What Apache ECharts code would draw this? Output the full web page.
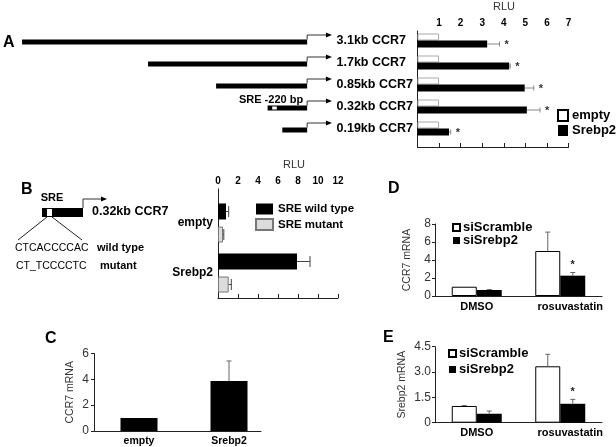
<!DOCTYPE html>
<html><head><meta charset="utf-8">
<script src="https://cdn.jsdelivr.net/npm/echarts@6/dist/echarts.min.js"></script>
<style>html,body{margin:0;padding:0;background:#fff}#c{width:616px;height:447px}</style>
</head><body><div id="c"></div>
<script>
// ---------- DATA ----------
// Panel A
const promoterNames = ['3.1kb CCR7', '1.7kb CCR7', '0.85kb CCR7', '0.32kb CCR7', '0.19kb CCR7'];
const promoterStart = [-3.1, -1.73, -0.99, -0.43, -0.27];   // drawn start (kb)
const sreBox = [null, null, null, [-0.38, -0.33], null];
const sreText = 'SRE -220 bp';
const arrowEnd = 0.27;
const aNames = ['empty', 'Srebp2'];
const aEmpty = [1, 1, 1, 1, 1];
const aSrebp2 = [3.23, 4.25, 4.97, 5.07, 1.46];
const aSrebp2Err = [0.57, 0.05, 0.42, 0.61, 0.08];
const aStar = [1, 1, 1, 1, 1];
// Panel B
const bCats = ['empty', 'Srebp2'];
const bNames = ['SRE wild type', 'SRE mutant'];
const bWild = [0.8, 7.9];
const bWildErr = [0.27, 1.3];
const bMut = [0.5, 1.07];
const bMutErr = [0.08, 0.26];
// Panel C
const cCats = ['empty', 'Srebp2'];
const cVals = [1.0, 3.88];
const cErr = [0, 1.54];
// Panels D, E
const deCats = ['DMSO', 'rosuvastatin'];
const deNames = ['siScramble', 'siSrebp2'];
const dScr = [1.03, 5.0];
const dScrErr = [0, 2.1];
const dSi = [0.67, 2.26];
const dSiErr = [0.05, 0.35];
const dStar = [0, 1];
const eScr = [0.99, 3.34];
const eScrErr = [0.03, 0.71];
const eSi = [0.53, 1.12];
const eSiErr = [0.16, 0.26];
const eStar = [0, 1];

// ---------- CHART ----------
const FF = 'Arial, "Liberation Sans", Helvetica, sans-serif';
const chart = echarts.init(document.getElementById('c'));

function hErr(xi, yi, vals, errs, stars, offset, cap, color) {
  return {
    type: 'custom', xAxisIndex: xi, yAxisIndex: yi, silent: true, z: 5,
    encode: { x: 1, y: 0 },
    data: vals.map((v, i) => [i, v, errs[i], stars ? stars[i] : 0]),
    renderItem(params, api) {
      const i = api.value(0), v = api.value(1), e = api.value(2), s = api.value(3);
      const a = api.coord([v, i]), b = api.coord([v + e, i]);
      const y = a[1] + offset, ch = [];
      if (e > 0) {
        ch.push({ type: 'line', shape: { x1: a[0], y1: y, x2: b[0], y2: y }, style: { stroke: color, lineWidth: 1 } });
        ch.push({ type: 'line', shape: { x1: b[0], y1: y - cap / 2, x2: b[0], y2: y + cap / 2 }, style: { stroke: color, lineWidth: 1 } });
      }
      if (s) ch.push({ type: 'text', x: b[0] + 5, y: y + 1, style: { text: '*', fill: '#333', font: 'bold 11px ' + FF, align: 'left', verticalAlign: 'middle' } });
      return { type: 'group', children: ch };
    }
  };
}
function vErr(xi, yi, vals, errs, stars, offset, cap, color) {
  return {
    type: 'custom', xAxisIndex: xi, yAxisIndex: yi, silent: true, z: 5,
    encode: { x: 0, y: 1 },
    data: vals.map((v, i) => [i, v, errs[i], stars ? stars[i] : 0]),
    renderItem(params, api) {
      const i = api.value(0), v = api.value(1), e = api.value(2), s = api.value(3);
      const a = api.coord([i, v]), b = api.coord([i, v + e]);
      const x = a[0] + offset, ch = [];
      if (e > 0) {
        ch.push({ type: 'line', shape: { x1: x, y1: a[1], x2: x, y2: b[1] }, style: { stroke: color, lineWidth: 1 } });
        ch.push({ type: 'line', shape: { x1: x - cap / 2, y1: b[1], x2: x + cap / 2, y2: b[1] }, style: { stroke: color, lineWidth: 1 } });
      }
      if (s) ch.push({ type: 'text', x: x, y: b[1] - 2, style: { text: '*', fill: '#222', font: 'bold 11px ' + FF, align: 'center', verticalAlign: 'bottom' } });
      return { type: 'group', children: ch };
    }
  };
}

const lineAxis = (show) => ({ show: show, lineStyle: { color: '#222', width: 1 } });
const noSplit = { show: false };
const deLabel = {
  margin: 5, interval: 0, color: '#000', fontSize: 11, fontWeight: 'bold',
  formatter: (v, i) => i === 1 ? '{r|' + v + '}' : '{d|' + v + '}',
  rich: { r: { fontSize: 11, fontWeight: 'bold', color: '#000', padding: [0, 0, 0, 20] },
          d: { fontSize: 11, fontWeight: 'bold', color: '#000' } }
};

const option = {
  animation: false,
  backgroundColor: '#fff',
  textStyle: { fontFamily: FF },
  grid: [
    { left: 417.5, top: 25, width: 151, height: 122 },     // 0 A outer
    { left: 417.5, top: 29.5, width: 151, height: 110 },   // 1 A inner
    { left: 0, top: 29.5, width: 400, height: 110 },       // 2 promoter diagram
    { left: 218, top: 189, width: 120, height: 109 },      // 3 B outer
    { left: 218, top: 198, width: 120, height: 100 },      // 4 B inner
    { left: 94, top: 353.5, width: 180, height: 78 },      // 5 C
    { left: 94, top: 353.5, width: 167, height: 78 },      // 6 C baseline
    { left: 435, top: 224, width: 167, height: 72 },       // 7 D
    { left: 435, top: 346.7, width: 167, height: 76 }      // 8 E
  ],
  xAxis: [
    { gridIndex: 0, type: 'value', position: 'top', min: 0, max: 7, interval: 1,
      axisLine: lineAxis(true), axisTick: { show: true, length: 4, lineStyle: { color: '#222' } },
      axisLabel: { margin: 3, color: '#000', fontSize: 10, fontWeight: 'bold', formatter: v => v === 0 ? '' : String(v) },
      splitLine: noSplit, name: 'RLU', nameLocation: 'middle', nameGap: 19,
      nameTextStyle: { fontSize: 11, color: '#333', padding: [0, 0, 0, 22] } },
    { gridIndex: 1, type: 'value', min: 0, max: 7, show: false },
    { gridIndex: 2, type: 'value', min: -3.34, max: 1.01, show: false },
    { gridIndex: 3, type: 'value', position: 'top', min: 0, max: 12, interval: 2,
      axisLine: lineAxis(true), axisTick: { show: true, length: 4, lineStyle: { color: '#222' } },
      axisLabel: { margin: 3, color: '#000', fontSize: 10, fontWeight: 'bold' },
      splitLine: noSplit, name: 'RLU', nameLocation: 'middle', nameGap: 19,
      nameTextStyle: { fontSize: 11, color: '#333', padding: [0, 0, 0, 32] } },
    { gridIndex: 4, type: 'value', min: 0, max: 12, show: false },
    { gridIndex: 5, type: 'category', data: cCats, axisLine: { show: false }, axisTick: { show: false },
      axisLabel: { margin: 5, interval: 0, color: '#000', fontSize: 10.5, fontWeight: 'bold' } },
    { gridIndex: 6, type: 'value', min: 0, max: 1, axisLine: Object.assign(lineAxis(true), { onZero: false }),
      axisTick: { show: false }, axisLabel: { show: false }, splitLine: noSplit },
    { gridIndex: 7, type: 'category', data: deCats, axisLine: Object.assign(lineAxis(true), { onZero: false }), axisTick: { show: false },
      axisLabel: deLabel },
    { gridIndex: 8, type: 'category', data: deCats, axisLine: Object.assign(lineAxis(true), { onZero: false }), axisTick: { show: false },
      axisLabel: deLabel }
  ],
  yAxis: [
    { gridIndex: 0, type: 'value', min: 0, max: 1, axisLine: lineAxis(true), axisTick: { show: false }, axisLabel: { show: false }, splitLine: noSplit },
    { gridIndex: 1, type: 'category', inverse: true, data: promoterNames, axisLine: { show: false }, axisTick: { show: false },
      axisLabel: { margin: 81, interval: 0, align: 'left', color: '#000', fontSize: 12.5, fontWeight: 'bold' } },
    { gridIndex: 2, type: 'category', inverse: true, data: promoterNames, show: false },
    { gridIndex: 3, type: 'value', min: 0, max: 1, axisLine: lineAxis(true), axisTick: { show: false }, axisLabel: { show: false }, splitLine: noSplit },
    { gridIndex: 4, type: 'category', inverse: true, data: bCats, axisLine: { show: false }, axisTick: { show: false },
      axisLabel: { margin: 5, interval: 0, color: '#000', fontSize: 12, fontWeight: 'bold', padding: [5, 0, 0, 0] } },
    { gridIndex: 5, type: 'value', min: 0, max: 6, interval: 2, axisLine: lineAxis(true),
      axisTick: { show: true, length: 3, lineStyle: { color: '#222' } },
      axisLabel: { margin: 5, color: '#333', fontSize: 12 }, splitLine: noSplit,
      name: 'CCR7 mRNA', nameLocation: 'middle', nameGap: 18, nameTextStyle: { fontSize: 10.5, color: '#333' } },
    { gridIndex: 6, type: 'value', min: 0, max: 6, show: false },
    { gridIndex: 7, type: 'value', min: 0, max: 8, interval: 2, axisLine: lineAxis(true),
      axisTick: { show: true, length: 3, lineStyle: { color: '#222' } },
      axisLabel: { margin: 4, color: '#333', fontSize: 12 }, splitLine: noSplit,
      name: 'CCR7 mRNA', nameLocation: 'middle', nameGap: 22, nameTextStyle: { fontSize: 10.5, color: '#333' } },
    { gridIndex: 8, type: 'value', min: 0, max: 4.5, interval: 1.5, axisLine: lineAxis(true),
      axisTick: { show: true, length: 3, lineStyle: { color: '#222' } },
      axisLabel: { margin: 4, color: '#333', fontSize: 12, formatter: v => v === 0 ? '0' : v.toFixed(1) }, splitLine: noSplit,
      name: 'Srebp2 mRNA', nameLocation: 'middle', nameGap: 27, nameTextStyle: { fontSize: 10.5, color: '#333' } }
  ],
  legend: [
    { data: [{ name: 'empty', itemStyle: { borderColor: '#000' } }, 'Srebp2'], left: 557, top: 109, orient: 'vertical',
      icon: 'rect', itemWidth: 10, itemHeight: 11, itemGap: 2, padding: 0,
      textStyle: { fontSize: 13, fontWeight: 'bold', color: '#000', padding: [0, 0, 0, -1] } },
    { data: bNames, left: 255, top: 203, orient: 'vertical', icon: 'rect', itemWidth: 17, itemHeight: 11, itemGap: 3, padding: 0,
      textStyle: { fontSize: 11.5, fontWeight: 'bold', color: '#000' } },
    { data: deNames, left: 452, top: 221, orient: 'vertical', icon: 'rect', itemWidth: 7, itemHeight: 7, itemGap: 0, padding: 0,
      textStyle: { fontSize: 13, fontWeight: 'bold', color: '#000', padding: [0, 0, 0, -2] } },
    { data: deNames, left: 448, top: 347, orient: 'vertical', icon: 'rect', itemWidth: 7, itemHeight: 7, itemGap: 3, padding: 0,
      textStyle: { fontSize: 13, fontWeight: 'bold', color: '#000', padding: [0, 0, 0, -2] } }
  ],
  series: [
    // A bars
    { name: aNames[0], type: 'bar', xAxisIndex: 1, yAxisIndex: 1, data: aEmpty, barWidth: 7, barGap: '0%',
      itemStyle: { color: '#fff', borderColor: '#aaa', borderWidth: 1 } },
    { name: aNames[1], type: 'bar', xAxisIndex: 1, yAxisIndex: 1, data: aSrebp2, barWidth: 7, barGap: '0%',
      itemStyle: { color: '#000' } },
    hErr(1, 1, aSrebp2, aSrebp2Err, aStar, 3.5, 5, '#888'),
    // promoter diagrams
    { type: 'custom', xAxisIndex: 2, yAxisIndex: 2, silent: true, encode: { x: 1, y: 0 },
      data: promoterStart.map((s, i) => [i, s, sreBox[i] ? sreBox[i][0] : NaN, sreBox[i] ? sreBox[i][1] : NaN]),
      renderItem(params, api) {
        const i = api.value(0), s = api.value(1), ss = api.value(2), se = api.value(3);
        const p0 = api.coord([s, i]), p1 = api.coord([0, i]), pa = api.coord([arrowEnd, i]);
        const y = p0[1] + 1.5, h = 5, ay = y - 7;
        const ch = [
          { type: 'rect', shape: { x: p0[0], y: y - h / 2, width: p1[0] - p0[0], height: h }, style: { fill: '#000' } },
          { type: 'polyline', shape: { points: [[p1[0], y - h / 2], [p1[0], ay], [pa[0] - 4, ay]] }, style: { stroke: '#333', lineWidth: 1, fill: null } },
          { type: 'polygon', shape: { points: [[pa[0] - 6, ay - 2.5], [pa[0], ay], [pa[0] - 6, ay + 2.5]] }, style: { fill: '#000' } }
        ];
        if (!isNaN(ss)) {
          const q0 = api.coord([ss, i]), q1 = api.coord([se, i]);
          ch.push({ type: 'rect', shape: { x: q0[0], y: y - h / 2 + 1, width: q1[0] - q0[0], height: h - 2 }, style: { fill: '#fff' } });
          ch.push({ type: 'text', x: p1[0] - 4, y: ay - 1, style: { text: sreText, fill: '#000', font: 'bold 11px ' + FF, align: 'right', verticalAlign: 'middle' } });
        }
        return { type: 'group', children: ch };
      } },
    // B bars
    { name: bNames[0], type: 'bar', xAxisIndex: 4, yAxisIndex: 4, data: bWild, barWidth: 16, barGap: '44%',
      itemStyle: { color: '#000' } },
    { name: bNames[1], type: 'bar', xAxisIndex: 4, yAxisIndex: 4, data: bMut, barWidth: 16, barGap: '44%',
      itemStyle: { color: '#dcdcdc', borderColor: '#777', borderWidth: 1 } },
    hErr(4, 4, bWild, bWildErr, null, -11.5, 11, '#444'),
    hErr(4, 4, bMut, bMutErr, null, 11.5, 11, '#444'),
    // C
    { name: 'C', type: 'bar', xAxisIndex: 5, yAxisIndex: 5, data: cVals, barWidth: 37, itemStyle: { color: '#000' } },
    vErr(5, 5, cVals, cErr, null, 0, 5, '#666'),
    // D
    { name: deNames[0], type: 'bar', xAxisIndex: 7, yAxisIndex: 7, data: dScr, barWidth: 25, barGap: '0%',
      itemStyle: { color: '#fff', borderColor: '#000', borderWidth: 1 } },
    { name: deNames[1], type: 'bar', xAxisIndex: 7, yAxisIndex: 7, data: dSi, barWidth: 25, barGap: '0%',
      itemStyle: { color: '#000' } },
    vErr(7, 7, dScr, dScrErr, null, -12.5, 5, '#666'),
    vErr(7, 7, dSi, dSiErr, dStar, 12.5, 5, '#666'),
    // E
    { name: deNames[0], type: 'bar', xAxisIndex: 8, yAxisIndex: 8, data: eScr, barWidth: 25, barGap: '0%',
      itemStyle: { color: '#fff', borderColor: '#000', borderWidth: 1 } },
    { name: deNames[1], type: 'bar', xAxisIndex: 8, yAxisIndex: 8, data: eSi, barWidth: 25, barGap: '0%',
      itemStyle: { color: '#000' } },
    vErr(8, 8, eScr, eScrErr, null, -12.5, 5, '#666'),
    vErr(8, 8, eSi, eSiErr, eStar, 12.5, 5, '#666')
  ],
  graphic: [
    { type: 'text', x: 3, y: 43, style: { text: 'A', font: 'bold 16px ' + FF, fill: '#000', align: 'left', verticalAlign: 'middle' } },
    { type: 'text', x: 21, y: 190, style: { text: 'B', font: 'bold 16px ' + FF, fill: '#000', align: 'left', verticalAlign: 'middle' } },
    { type: 'text', x: 45, y: 339, style: { text: 'C', font: 'bold 16px ' + FF, fill: '#000', align: 'left', verticalAlign: 'middle' } },
    { type: 'text', x: 388, y: 189, style: { text: 'D', font: 'bold 16px ' + FF, fill: '#000', align: 'left', verticalAlign: 'middle' } },
    { type: 'text', x: 383, y: 338, style: { text: 'E', font: 'bold 16px ' + FF, fill: '#000', align: 'left', verticalAlign: 'middle' } },
    // B schematic
    { type: 'text', x: 52, y: 198, style: { text: 'SRE', font: 'bold 11px ' + FF, fill: '#000', align: 'center', verticalAlign: 'middle' } },
    { type: 'rect', shape: { x: 42, y: 208, width: 41, height: 9 }, style: { fill: '#000' } },
    { type: 'rect', shape: { x: 47, y: 209, width: 5, height: 7 }, style: { fill: '#fff' } },
    { type: 'polyline', shape: { points: [[83, 208], [83, 199], [102, 199]] }, style: { stroke: '#333', lineWidth: 1, fill: null } },
    { type: 'polygon', shape: { points: [[101, 196.5], [107, 199], [101, 201.5]] }, style: { fill: '#000' } },
    { type: 'line', shape: { x1: 47, y1: 217, x2: 18, y2: 240 }, style: { stroke: '#222', lineWidth: 1 } },
    { type: 'line', shape: { x1: 52, y1: 217, x2: 82, y2: 240 }, style: { stroke: '#222', lineWidth: 1 } },
    { type: 'text', x: 92, y: 212, style: { text: '0.32kb CCR7', font: 'bold 12.5px ' + FF, fill: '#000', align: 'left', verticalAlign: 'middle' } },
    { type: 'text', x: 15, y: 248, style: { text: 'CTCACCCCAC', font: '10.5px ' + FF, fill: '#000', align: 'left', verticalAlign: 'middle' } },
    { type: 'text', x: 97, y: 248, style: { text: 'wild type', font: 'bold 11px ' + FF, fill: '#000', align: 'left', verticalAlign: 'middle' } },
    { type: 'text', x: 16, y: 266, style: { text: 'CT_TCCCCTC', font: '10.5px ' + FF, fill: '#000', align: 'left', verticalAlign: 'middle' } },
    { type: 'text', x: 100, y: 266, style: { text: 'mutant', font: 'bold 11px ' + FF, fill: '#000', align: 'left', verticalAlign: 'middle' } }
  ]
};
chart.setOption(option);
</script>
</body></html>
